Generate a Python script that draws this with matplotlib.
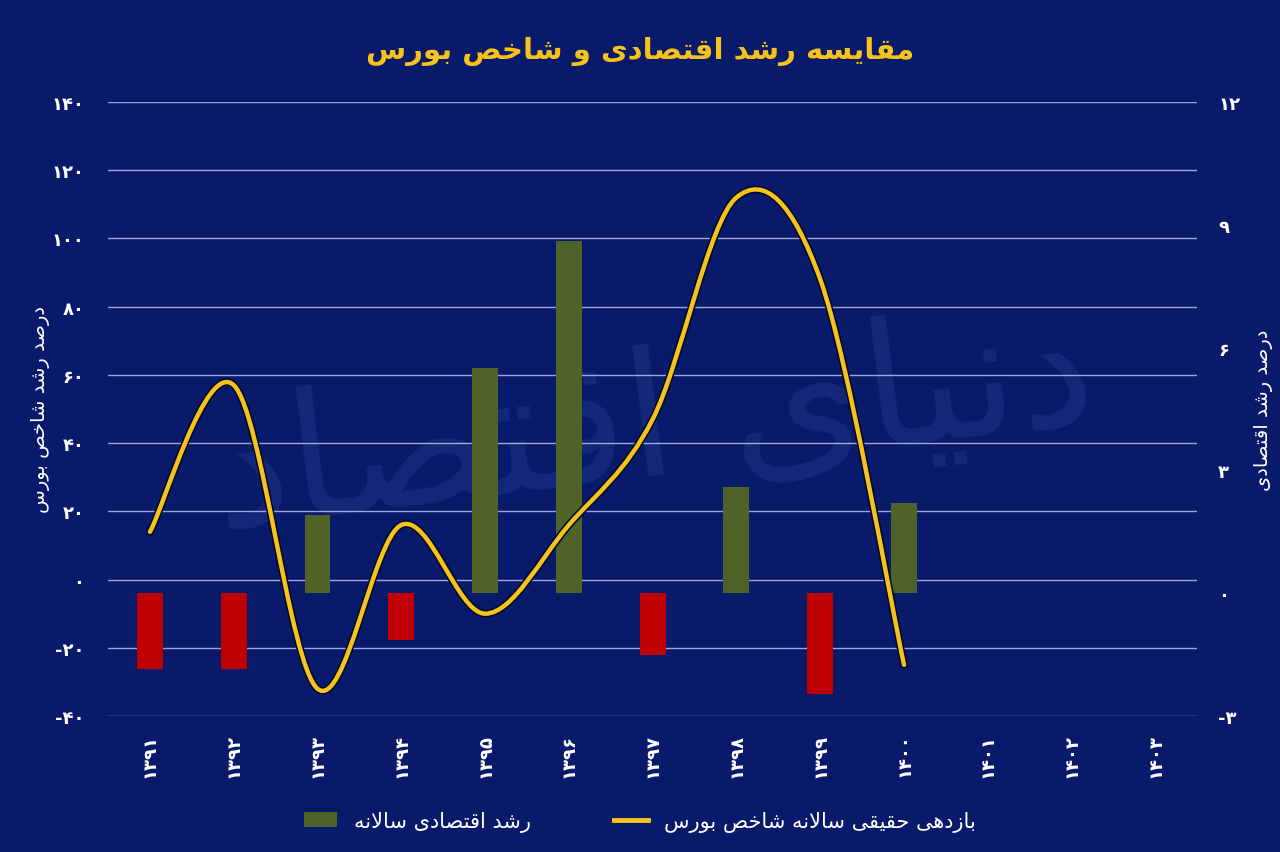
import matplotlib.pyplot as plt
from matplotlib.path import Path
from matplotlib.patches import PathPatch
from matplotlib.lines import Line2D
from matplotlib.patches import Patch

# Data:
years = ['۱۳۹۱', '۱۳۹۲', '۱۳۹۳', '۱۳۹۴', '۱۳۹۵', '۱۳۹۶', '۱۳۹۷',
         '۱۳۹۸', '۱۳۹۹', '۱۴۰۰', '۱۴۰۱', '۱۴۰۲', '۱۴۰۳']
gdp_growth = [-1.85, -1.85, 1.9, -1.15, 5.5, 8.6, -1.5, 2.6, -2.45, 2.2]
stock_return = [14, 57, -32, 16, -10, 16, 47, 112, 88, -25]
left_ticks = [-40, -20, 0, 20, 40, 60, 80, 100, 120, 140]
right_ticks = [-3, 0, 3, 6, 9, 12]

title = 'مقایسه رشد اقتصادی و شاخص بورس'
left_label = 'درصد رشد شاخص بورس'
right_label = 'درصد رشد اقتصادی'
line_name = 'بازدهی حقیقی سالانه شاخص بورس'
bar_name = 'رشد اقتصادی سالانه'
watermark = 'دنیای اقتصاد'

BG = '#0a1a6b'
GOLD = '#f7c31a'
GREEN = '#4f6228'
RED = '#c00000'
GRID = '#b8c0ea'

# Arabic presentation forms: (isolated, final, initial, medial)
FORMS = {
    'ا': (0xFE8D, 0xFE8E, None, None),
    'ب': (0xFE8F, 0xFE90, 0xFE91, 0xFE92),
    'ت': (0xFE95, 0xFE96, 0xFE97, 0xFE98),
    'ح': (0xFEA1, 0xFEA2, 0xFEA3, 0xFEA4),
    'خ': (0xFEA5, 0xFEA6, 0xFEA7, 0xFEA8),
    'د': (0xFEA9, 0xFEAA, None, None),
    'ر': (0xFEAD, 0xFEAE, None, None),
    'ز': (0xFEAF, 0xFEB0, None, None),
    'س': (0xFEB1, 0xFEB2, 0xFEB3, 0xFEB4),
    'ش': (0xFEB5, 0xFEB6, 0xFEB7, 0xFEB8),
    'ص': (0xFEB9, 0xFEBA, 0xFEBB, 0xFEBC),
    'ق': (0xFED5, 0xFED6, 0xFED7, 0xFED8),
    'ل': (0xFEDD, 0xFEDE, 0xFEDF, 0xFEE0),
    'م': (0xFEE1, 0xFEE2, 0xFEE3, 0xFEE4),
    'ن': (0xFEE5, 0xFEE6, 0xFEE7, 0xFEE8),
    'ه': (0xFEE9, 0xFEEA, 0xFEEB, 0xFEEC),
    'و': (0xFEED, 0xFEEE, None, None),
    'ی': (0xFEEF, 0xFEF0, 0xFEF3, 0xFEF4),
}


def shape(text):
    """ Join Persian letters and reverse them for left-to-right drawing. """
    # Merge lam + alef into one ligature marker:
    chars = []
    i = 0
    while i < len(text):
        if text[i] == 'ل' and i + 1 < len(text) and text[i + 1] == 'ا':
            chars.append('LA')
            i += 2
        else:
            chars.append(text[i])
            i += 1

    def joins_left(c):
        return c in FORMS and FORMS[c][2] is not None

    def joins(c):
        return c in FORMS or c == 'LA'

    out = []
    for k, c in enumerate(chars):
        prev = chars[k - 1] if k > 0 else None
        nxt = chars[k + 1] if k + 1 < len(chars) else None
        from_prev = prev is not None and joins_left(prev)
        if c == 'LA':
            out.append(chr(0xFEFC if from_prev else 0xFEFB))
            continue
        if c not in FORMS:
            out.append(c)
            continue
        to_next = joins_left(c) and nxt is not None and joins(nxt)
        iso, fin, ini, med = FORMS[c]
        if from_prev and to_next:
            code = med
        elif from_prev:
            code = fin
        elif to_next:
            code = ini
        else:
            code = iso
        out.append(chr(code))
    return ''.join(reversed(out))


def fa_num(v):
    digits = '۰۱۲۳۴۵۶۷۸۹'
    s = ''.join(digits[int(d)] for d in str(abs(v)))
    return ('-' + s) if v < 0 else s


def smooth_path(xs, ys, tension=1 / 6):
    """ Bezier path through points (like a smoothed spreadsheet line). """
    verts = [(xs[0], ys[0])]
    codes = [Path.MOVETO]
    n = len(xs)
    for i in range(n - 1):
        x0, y0 = (xs[i - 1], ys[i - 1]) if i > 0 else (xs[i], ys[i])
        x3, y3 = (xs[i + 2], ys[i + 2]) if i + 2 < n else (xs[i + 1], ys[i + 1])
        c1 = (xs[i] + (xs[i + 1] - x0) * tension, ys[i] + (ys[i + 1] - y0) * tension)
        c2 = (xs[i + 1] - (x3 - xs[i]) * tension, ys[i + 1] - (y3 - ys[i]) * tension)
        verts += [c1, c2, (xs[i + 1], ys[i + 1])]
        codes += [Path.CURVE4] * 3
    return Path(verts, codes)


plt.rcParams['font.family'] = ['DejaVu Sans']

fig = plt.figure(figsize=(12.8, 8.53), dpi=100, facecolor=BG)
ax = fig.add_axes([0.0844, 0.1594, 0.851, 0.7199])
ax.set_facecolor(BG)
ax2 = ax.twinx()

x = list(range(len(years)))

# Watermark:
ax.text(6.0, 45, shape(watermark), fontsize=125, color='#22378a', alpha=0.45,
        ha='center', va='center', rotation=7, zorder=0, clip_on=True)

# Grid lines on left axis:
for t in left_ticks:
    ax.axhline(t, color=GRID, lw=1.0, alpha=0.85, zorder=1)

# Bars (right axis):
bar_colors = [GREEN if v >= 0 else RED for v in gdp_growth]
ax2.bar(x[:len(gdp_growth)], gdp_growth, width=0.31, color=bar_colors, zorder=2)

# Smoothed line (left axis), drawn above the bars:
ax.set_ylim(-40, 140)
ax2.set_ylim(-3, 12)
xs = x[:len(stock_return)]
path = smooth_path(xs, stock_return)
shadow = PathPatch(path, facecolor='none', edgecolor='#000a30', lw=5.5,
                   transform=ax.transData, zorder=5, capstyle='round')
line = PathPatch(path, facecolor='none', edgecolor=GOLD, lw=3.2,
                 transform=ax.transData, zorder=6, capstyle='round')
ax2.add_artist(shadow)
ax2.add_artist(line)

ax.set_xlim(-0.5, len(years) - 0.5)
ax.set_xticks(x)
ax.set_xticklabels(years, rotation=90, color='white', fontsize=13, fontweight='bold')
ax.set_yticks(left_ticks)
ax.set_yticklabels([fa_num(t) for t in left_ticks], color='white', fontsize=13,
                   fontweight='bold')
ax2.set_yticks(right_ticks)
ax2.set_yticklabels([fa_num(t) for t in right_ticks], color='white', fontsize=13,
                    fontweight='bold')

for a in (ax, ax2):
    a.tick_params(length=0)
    for s in a.spines.values():
        s.set_visible(False)
ax.tick_params(axis='y', pad=17)
ax.tick_params(axis='x', pad=12)
ax2.tick_params(axis='y', pad=15)

ax.set_ylabel(shape(left_label), color='white', fontsize=14, labelpad=1)
ax2.set_ylabel(shape(right_label), color='white', fontsize=14, rotation=90,
               labelpad=10)

fig.text(0.5, 0.94, shape(title), color=GOLD, fontsize=21, fontweight='bold',
         ha='center', va='center')

handles = [Patch(facecolor=GREEN, edgecolor='none'),
           Line2D([0], [0], color=GOLD, lw=3.5)]
fig.legend(handles, [shape(bar_name), shape(line_name)], loc='center',
           bbox_to_anchor=(0.5, 0.036), ncol=2, frameon=False, fontsize=15,
           labelcolor='white', columnspacing=4, handlelength=1.6)

fig.savefig('out.png', dpi=100, facecolor=BG)
